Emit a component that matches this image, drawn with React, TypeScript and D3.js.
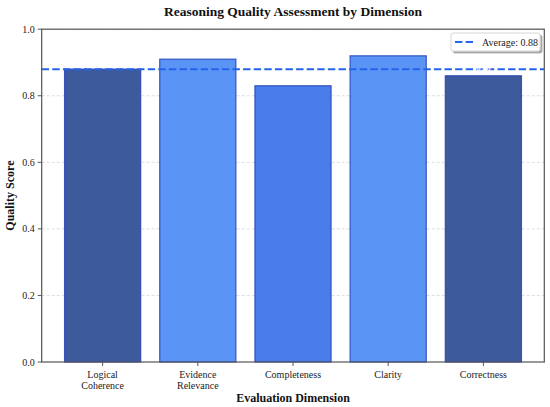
import React from "react";
import * as d3 from "d3";

const categories = ["Logical\nCoherence", "Evidence\nRelevance", "Completeness", "Clarity", "Correctness"];
const scores = [0.88, 0.91, 0.83, 0.92, 0.86];
const barColors = ["#3d5a9c", "#5a94f5", "#4a7cec", "#5a94f5", "#3d5a9c"];
const yTicks = [0.0, 0.2, 0.4, 0.6, 0.8, 1.0];
const average = scores.reduce((a, b) => a + b, 0) / scores.length;

const W = 550, H = 407;
const L = 41.7, R = 544.3, T = 29.2, B = 362;
const font = "'Liberation Serif', 'Times New Roman', serif";

export default function App() {
  const x = d3.scaleLinear().domain([-0.64, 4.64]).range([L, R]);
  const y = d3.scaleLinear().domain([0, 1]).range([B, T]);
  const bw = x(0.8) - x(0);
  return (
    <svg width={W} height={H} style={{ position: "absolute", left: 0, top: 0, fontFamily: font }}>
      <defs>
        <filter id="sh" x="-20%" y="-20%" width="140%" height="160%">
          <feDropShadow dx="2" dy="2" stdDeviation="0.6" floodColor="#000" floodOpacity="0.35" />
        </filter>
      </defs>
      <rect width={W} height={H} fill="#fff" />
      {yTicks.slice(1).map((t) => (
        <line key={"g" + t} x1={L} x2={R} y1={y(t)} y2={y(t)} stroke="#b0b0b0" strokeOpacity={0.6} strokeWidth={0.7} strokeDasharray="3,2" />
      ))}
      {scores.map((v, i) => (
        <rect key={"b" + i} x={x(i) - bw / 2} y={y(v)} width={bw} height={y(0) - y(v)} fill={barColors[i]} stroke="#2342b8" strokeOpacity={0.85} strokeWidth={1.2} />
      ))}
      <line x1={L} x2={R} y1={y(average)} y2={y(average)} stroke="#2563eb" strokeWidth={2} strokeDasharray="7.4,3.2" />
      {scores.map((v, i) => (
        <text key={"v" + i} x={x(i)} y={y(v) - 5} textAnchor="middle" fontSize={8} fontWeight="bold" fill="#fff">{v.toFixed(2)}</text>
      ))}
      <rect x={L} y={T} width={R - L} height={B - T} fill="none" stroke="#555" strokeWidth={1.2} />
      {yTicks.map((t) => (
        <g key={"y" + t}>
          <line x1={L - 4} x2={L} y1={y(t)} y2={y(t)} stroke="#555" strokeWidth={1} />
          <text x={L - 7} y={y(t) + 3.5} textAnchor="end" fontSize={10} fill="#222">{t.toFixed(1)}</text>
        </g>
      ))}
      {categories.map((c, i) => (
        <g key={"x" + i}>
          <line x1={x(i)} x2={x(i)} y1={B} y2={B + 4} stroke="#555" strokeWidth={1} />
          {c.split("\n").map((ln, j) => (
            <text key={j} x={x(i)} y={B + 16 + j * 10.5} textAnchor="middle" fontSize={10} fill="#222">{ln}</text>
          ))}
        </g>
      ))}
      <text x={(L + R) / 2} y={16} textAnchor="middle" fontSize={13.5} fontWeight="bold" fill="#111">Reasoning Quality Assessment by Dimension</text>
      <text x={(L + R) / 2} y={402} textAnchor="middle" fontSize={12} fontWeight="bold" fill="#111">Evaluation Dimension</text>
      <text transform={`translate(14,${(T + B) / 2}) rotate(-90)`} textAnchor="middle" fontSize={12} fontWeight="bold" fill="#111">Quality Score</text>
      <g filter="url(#sh)">
        <rect x={451} y={33} width={89} height={18} rx={2} fill="#fff" stroke="#ccc" strokeWidth={0.8} />
      </g>
      <line x1={455} x2={475} y1={42} y2={42} stroke="#2563eb" strokeWidth={2} strokeDasharray="7.4,3.2" />
      <text x={482} y={45.5} fontSize={10} fill="#222">Average: 0.88</text>
    </svg>
  );
}
